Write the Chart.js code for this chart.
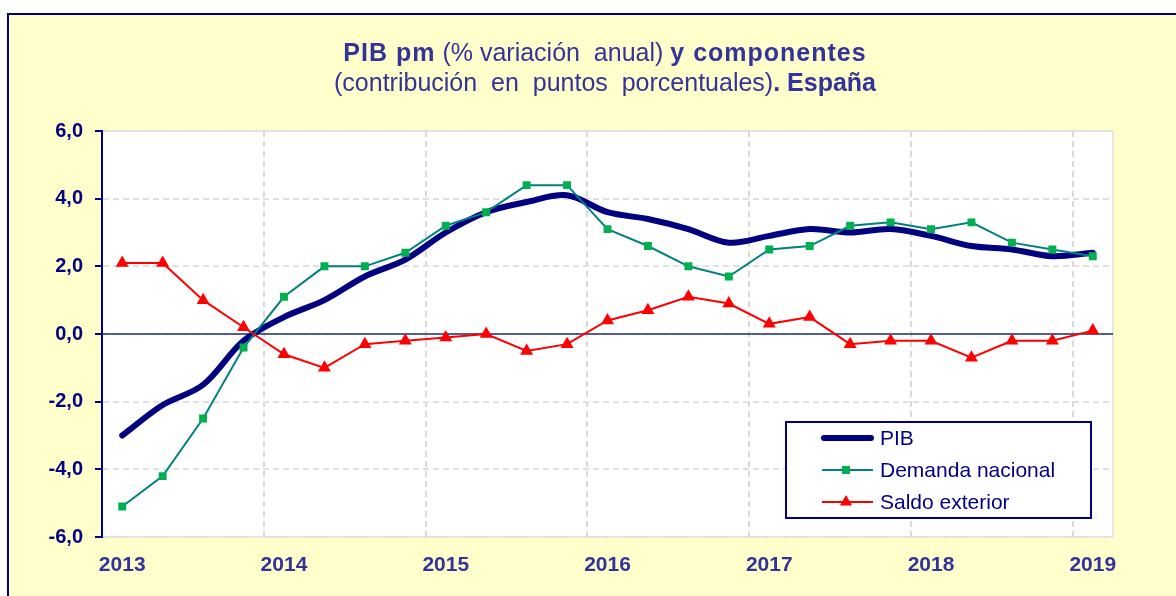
<!DOCTYPE html>
<html>
<head>
<meta charset="utf-8">
<script src="https://cdn.jsdelivr.net/npm/chart.js@4.4.1/dist/chart.umd.min.js"></script>
<style>
  html, body { margin: 0; padding: 0; background: #fff; }
  canvas { display: block; }
</style>
</head>
<body>
<canvas id="chart1" width="1176" height="596"></canvas>
<script>

// trimestres 2013 T1 .. 2019 T1
const trimestres = [
  '2013 T1', '2013 T2', '2013 T3', '2013 T4',
  '2014 T1', '2014 T2', '2014 T3', '2014 T4',
  '2015 T1', '2015 T2', '2015 T3', '2015 T4',
  '2016 T1', '2016 T2', '2016 T3', '2016 T4',
  '2017 T1', '2017 T2', '2017 T3', '2017 T4',
  '2018 T1', '2018 T2', '2018 T3', '2018 T4',
  '2019 T1'
];
const anos = ['2013', '2014', '2015', '2016', '2017', '2018', '2019'];

const pib = [
  -3.0, -2.1, -1.5, -0.2,
   0.5,  1.0,  1.7,  2.2,
   3.0,  3.6,  3.9,  4.1,
   3.6,  3.4,  3.1,  2.7,
   2.9,  3.1,  3.0,  3.1,
   2.9,  2.6,  2.5,  2.3,
   2.4
];
const demanda = [
  -5.1, -4.2, -2.5, -0.4,
   1.1,  2.0,  2.0,  2.4,
   3.2,  3.6,  4.4,  4.4,
   3.1,  2.6,  2.0,  1.7,
   2.5,  2.6,  3.2,  3.3,
   3.1,  3.3,  2.7,  2.5,
   2.3
];
const saldo = [
   2.1,  2.1,  1.0,  0.2,
  -0.6, -1.0, -0.3, -0.2,
  -0.1,  0.0, -0.5, -0.3,
   0.4,  0.7,  1.1,  0.9,
   0.3,  0.5, -0.3, -0.2,
  -0.2, -0.7, -0.2, -0.2,
   0.1
];

const azul = '#000080';
const azulTexto = '#333399';
const fuente = 'Arial, "Liberation Sans", sans-serif';


// fondo amarillo con marco y area de grafico blanca
const fondo = {
  id: 'fondo',
  beforeDraw(chart) {
    const c = chart.ctx;
    const a = chart.chartArea;
    c.save();
    c.fillStyle = '#ffffff';
    c.fillRect(0, 0, chart.width, chart.height);
    c.fillStyle = '#FFFFCC';
    c.fillRect(8, 14, chart.width, chart.height);
    c.strokeStyle = azul;
    c.lineWidth = 2;
    c.strokeRect(8, 14, chart.width + 10, chart.height + 10);
    c.fillStyle = '#ffffff';
    c.fillRect(a.left, a.top, a.right - a.left, a.bottom - a.top);
    c.strokeStyle = '#E6E6E6';
    c.lineWidth = 2;
    c.strokeRect(a.left, a.top, a.right - a.left, a.bottom - a.top);
    c.restore();
  },
  beforeDatasetsDraw(chart) {
    // linea del cero
    const c = chart.ctx;
    const a = chart.chartArea;
    const y0 = chart.scales.y.getPixelForValue(0);
    c.save();
    c.strokeStyle = '#1F2F6F';
    c.lineWidth = 1.5;
    c.beginPath();
    c.moveTo(a.left, y0);
    c.lineTo(a.right, y0);
    c.stroke();
    c.restore();
  }
};


// titulo con partes en negrita
const titulo = {
  id: 'titulo',
  afterDraw(chart) {
    const c = chart.ctx;
    const lineas = [
      { y: 61, partes: [['PIB pm', true], [' (% variación  anual) ', false], ['y componentes', true]] },
      { y: 91, partes: [['(contribución  en  puntos  porcentuales)', false], ['. España', true]] }
    ];
    const cx = 605;
    c.save();
    c.fillStyle = azulTexto;
    c.textBaseline = 'alphabetic';
    c.textAlign = 'left';
    function fijar(p, n) {
      c.font = (p[1] ? 'bold ' : '') + '25px ' + fuente;
      c.letterSpacing = (p[1] && n == 0) ? '1px' : '0px';
    }
    lineas.forEach(function(l, n) {
      let ancho = 0;
      l.partes.forEach(function(p) {
        fijar(p, n);
        ancho += c.measureText(p[0]).width;
      });
      let x = cx - ancho / 2;
      l.partes.forEach(function(p) {
        fijar(p, n);
        c.fillText(p[0], x, l.y);
        x += c.measureText(p[0]).width;
      });
    });
    c.restore();
  }
};


// leyenda dentro del area
const leyenda = {
  id: 'leyenda',
  afterDraw(chart) {
    const c = chart.ctx;
    const box = { x: 786, y: 422, w: 305, h: 96 };
    c.save();
    c.fillStyle = '#ffffff';
    c.fillRect(box.x, box.y, box.w, box.h);
    c.strokeStyle = azul;
    c.lineWidth = 2;
    c.strokeRect(box.x, box.y, box.w, box.h);

    c.font = '21px ' + fuente;
    c.textBaseline = 'middle';
    c.fillStyle = azul;

    chart.data.datasets.forEach(function(ds, i) {
      const y = 438 + i * 32;
      c.strokeStyle = ds.borderColor;
      c.lineWidth = ds.borderWidth;
      c.lineCap = i == 0 ? 'round' : 'butt';
      c.beginPath();
      c.moveTo(i == 0 ? 824 : 822, y);
      c.lineTo(i == 0 ? 871 : 873, y);
      c.stroke();
      if (ds.pointStyle == 'rect') {
        c.fillStyle = ds.pointBackgroundColor;
        c.fillRect(846 - 4, y - 4, 8, 8);
      } else if (ds.pointStyle == 'triangle') {
        c.fillStyle = ds.pointBackgroundColor;
        const r = 7;
        c.beginPath();
        c.moveTo(846, y - r);
        c.lineTo(846 + r * 0.866, y + r / 2);
        c.lineTo(846 - r * 0.866, y + r / 2);
        c.closePath();
        c.fill();
      }
      c.fillStyle = azul;
      c.fillText(ds.label, 880, y + 1);
    });
    c.restore();
  }
};


const ctx1 = document.getElementById('chart1').getContext('2d');
const chart1 = new Chart(ctx1, {
  type: 'line',
  data: {
    labels: trimestres,
    datasets: [
      {
        label: 'PIB',
        data: pib,
        borderColor: azul,
        borderWidth: 6,
        pointRadius: 0,
        tension: 0.33,
        borderCapStyle: 'round',
        order: 3
      },
      {
        label: 'Demanda nacional',
        data: demanda,
        borderColor: '#008080',
        borderWidth: 2,
        pointStyle: 'rect',
        pointRadius: 5.6,
        pointBackgroundColor: '#00B050',
        pointBorderColor: '#00B050',
        pointBorderWidth: 0,
        tension: 0,
        order: 2
      },
      {
        label: 'Saldo exterior',
        data: saldo,
        borderColor: '#FF0000',
        borderWidth: 2,
        pointStyle: 'triangle',
        pointRadius: 7.5,
        pointBackgroundColor: '#FF0000',
        pointBorderColor: '#FF0000',
        pointBorderWidth: 0,
        tension: 0,
        order: 1
      }
    ]
  },
  options: {
    responsive: false,
    animation: false,
    devicePixelRatio: 1,
    layout: { padding: { left: 0, top: 131, right: 63, bottom: 0 } },
    plugins: {
      legend: { display: false },
      title: { display: false },
      tooltip: { enabled: false }
    },
    scales: {
      x: {
        offset: true,
        afterFit: function(s) { s.height = 59; },
        grid: {
          offset: true,
          drawTicks: false,
          color: function(c) {
            return (c.index > 0 && c.index % 4 == 0) ? '#D9D9D9' : 'rgba(0,0,0,0)';
          },
          lineWidth: 2
        },
        border: { display: false, dash: [6, 4] },
        ticks: {
          autoSkip: false,
          maxRotation: 0,
          padding: 16,
          color: azulTexto,
          font: { family: fuente, size: 21, weight: 'bold' },
          callback: function(v, i) {
            return i % 4 == 0 ? anos[i / 4] : '';
          }
        }
      },
      y: {
        min: -6,
        max: 6,
        afterFit: function(s) { s.width = 102; },
        grid: {
          color: '#E0E0E0',
          lineWidth: 2,
          tickLength: 7,
          tickColor: azul,
          tickWidth: 2
        },
        border: { display: true, color: azul, width: 2, dash: [6, 4] },
        ticks: {
          stepSize: 2,
          padding: 12,
          color: azul,
          font: { family: fuente, size: 20, weight: 'bold' },
          callback: function(v) {
            return v.toFixed(1).replace('.', ',');
          }
        }
      }
    }
  },
  plugins: [fondo, titulo, leyenda]
});

</script>
</body>
</html>
